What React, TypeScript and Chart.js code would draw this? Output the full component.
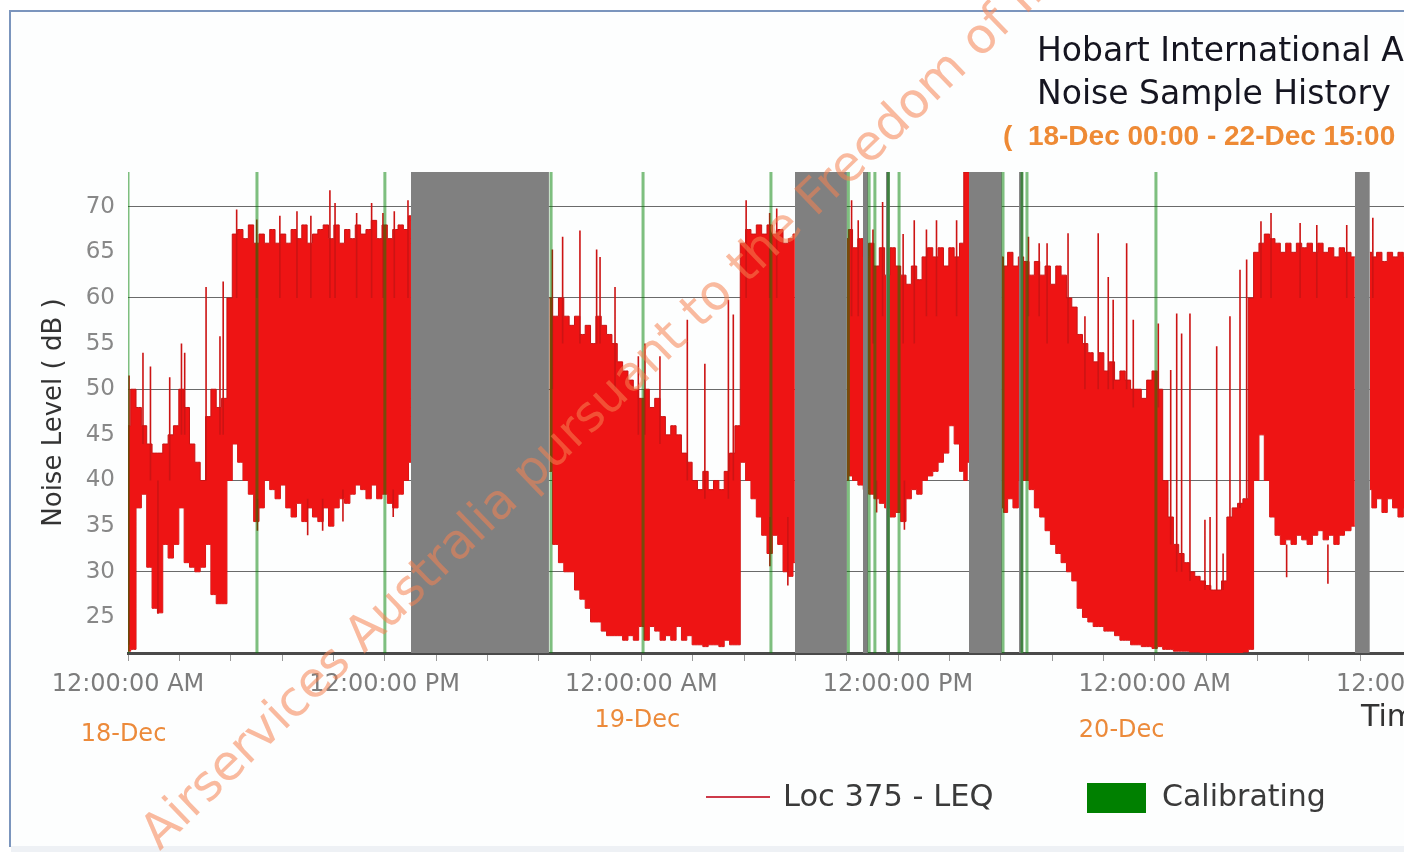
import React, { useEffect, useRef } from 'react';
import { Chart, registerables } from 'chart.js';

Chart.register(...registerables);

// ---------- data (hours since 18-Dec 00:00, dB) ----------
const Y_MIN = 21.1;
const Y_MAX = 73.8;
const X_MIN = 0;
const X_MAX = 72;

// LEQ body envelope samples; null marks a period with no data
const leqHours = [
  0, 0.25, 0.5, 0.75, 1, 1.25, 1.5, 1.75, 2, 2.25, 2.5, 2.75, 3, 3.25, 3.5, 3.75,
  4, 4.25, 4.5, 4.75, 5, 5.25, 5.5, 5.75, 6, 6.25, 6.5, 6.75, 7, 7.25, 7.5, 7.75,
  8, 8.25, 8.5, 8.75, 9, 9.25, 9.5, 9.75, 10, 10.25, 10.5, 10.75, 11, 11.25, 11.5, 11.75,
  12, 12.25, 12.5, 12.75, 13, 13.23,
  16.5,
  19.7, 20, 20.25, 20.5, 20.75, 21, 21.25, 21.5, 21.75, 22, 22.25, 22.5, 22.75, 23, 23.25, 23.5, 23.75,
  24, 24.25, 24.5, 24.75, 25, 25.25, 25.5, 25.75, 26, 26.25, 26.5, 26.75, 27, 27.25, 27.5, 27.75,
  28, 28.25, 28.5, 28.75, 29, 29.25, 29.5, 29.75, 30, 30.25, 30.5, 30.75, 31, 31.18,
  32.4,
  33.61, 33.75, 34, 34.25, 34.5, 34.75, 35, 35.25, 35.5, 35.75, 36, 36.25, 36.5, 36.75,
  37, 37.25, 37.5, 37.75, 38, 38.25, 38.5, 38.75, 39, 39.15, 39.32,
  40.1,
  40.86, 41, 41.25, 41.5, 41.75, 42, 42.25, 42.5, 42.75, 43, 43.25, 43.5, 43.75,
  44, 44.25, 44.5, 44.75, 45, 45.25, 45.5, 45.75, 46, 46.25, 46.5, 46.75,
  47, 47.25, 47.5, 47.75, 48, 48.25, 48.5, 48.75, 49, 49.25, 49.5, 49.75,
  50, 50.25, 50.5, 50.75, 51, 51.25, 51.5, 51.75, 52, 52.25, 52.5, 52.75,
  53, 53.25, 53.5, 53.75, 54, 54.25, 54.5, 54.75, 55, 55.25, 55.5, 55.75,
  56, 56.25, 56.5, 56.75, 57, 57.36,
  57.7,
  58.06, 58.25, 58.5, 58.75, 59, 59.25, 59.5, 59.75, 60,
];

const leqUpper = [
  46, 50, 48, 46, 44, 43, 43, 44, 45, 46, 50, 48, 44, 42, 40, 47,
  50, 48, 49, 60, 67, 67.5, 66.5, 68, 66, 67, 66, 67.5, 66, 67, 66, 67.5,
  66.5, 68, 66, 67, 67.5, 68, 66.5, 68, 66, 67.5, 66.5, 68, 67, 67.5, 68.5, 66.5,
  68, 66.5, 67.5, 68, 67.5, 69,
  null,
  60, 58, 60, 58, 57, 58, 56, 57, 55, 58, 57, 56, 55, 53, 52, 51, 50,
  49, 50, 48, 49, 47, 45, 46, 45, 43, 42, 40, 39, 41, 39, 40, 39,
  41, 43, 46, 66, 67.5, 67, 68, 67, 68, 67, 67.5, 66, 66.5, 67,
  null,
  66.5, 67.5, 65.5, 66.5, 64.5, 66, 63.5, 65.5, 62.5, 65.5, 63.5, 62.5, 61.5, 63.5,
  62, 64.5, 65.5, 64.5, 65.5, 63.5, 65.5, 64.5, 66, 73.8, 73.8,
  null,
  64.5, 63.5, 65, 63.5, 64.5, 64, 62.5, 64, 62.5, 63.5, 61.5, 63.5, 62.5,
  60, 59, 56, 55, 54, 53, 54, 52, 53, 51, 52, 51,
  50, 50, 49, 51, 52, 50, 40, 36, 33, 32, 31, 30,
  29.5, 29, 28.5, 28, 28, 29, 36, 37, 37.5, 38, 60, 65,
  66, 67, 66.5, 66, 65, 66, 65, 66, 65.5, 66, 65, 66,
  65, 65.5, 64.5, 65.5, 65, 64.5,
  null,
  65, 64.5, 65, 64, 65, 64.5, 65, 64.5, 65,
];

const leqLower = [
  21.3, 21.5, 37, 38.5, 30.5, 26, 25.5, 33, 31.5, 33, 37, 31, 30.5, 30, 30.5, 33,
  27.5, 26.5, 26.5, 40, 44, 42, 40, 38.5, 35.5, 37, 40, 39, 38, 39.5, 37, 36,
  37.5, 35.5, 37, 36, 35.5, 37, 35, 37, 38, 37.5, 38.5, 39.5, 39, 38, 39.5, 38,
  38.5, 37.5, 37, 38.5, 40, 42,
  null,
  41, 33, 31, 30, 30, 28, 27, 26, 24.5, 24.5, 23.5, 23, 23, 23, 22.5, 23, 22.5,
  24, 22.5, 24, 23.5, 22.5, 23, 22.5, 24, 22.5, 23, 22, 22, 21.8, 22, 22, 21.8,
  22.5, 22, 22, 42, 40, 38, 36, 34, 32, 34, 33, 30, 29.5, 31,
  null,
  40, 40.5, 40, 39.5, 39, 38.5, 38, 37.5, 37, 36, 36.5, 35.5, 38, 39,
  38.5, 40, 40.5, 41, 42, 43, 46, 44, 41, 40, 42,
  null,
  37, 36.5, 38, 37, 40, 40, 39, 37, 36, 34.5, 33, 32, 31,
  30, 29, 26, 25, 24.5, 24, 24, 23.5, 23.5, 23, 22.5, 22.5,
  22, 22, 21.8, 21.8, 21.6, 21.8, 21.5, 21.5, 21.3, 21.3, 21.3, 21.2,
  21.2, 21.1, 21.1, 21, 21, 21, 21, 21, 21, 21.2, 21.5, 40,
  45, 40, 36, 34, 33, 33.5, 33, 34, 33.5, 33, 34, 34.5,
  33.5, 34, 33, 34, 34.5, 35,
  null,
  39, 37, 38, 36.5, 38, 37, 36, 37, 38,
];

// individual short LEQ excursions (thin spikes up and dips down)
const spikeHours = [
  0.05, 0.7, 1.05, 1.4, 1.95, 2.5, 2.65, 3.65, 4.3, 4.45, 5.08, 6.02, 6.05, 7.1, 7.9, 8.4,
  8.55, 9.1, 9.44, 9.68, 10.05, 10.69, 11.39, 11.92, 12.4, 12.45, 13.09,
  19.84, 20.32, 21.13, 21.91, 22.07, 22.77, 23.86, 24.17, 24.87, 26.15, 26.97, 28.07, 28.3,
  28.9, 30.0, 30.01, 30.33, 30.85,
  33.83, 34.14, 34.83, 35.0, 35.28, 36.24, 36.3, 36.76, 37.33, 37.8, 38.74,
  42.1, 42.6, 42.97, 43.95, 44.74, 45.36, 45.83, 46.06, 46.69, 47.0, 48.17, 48.75, 49.03,
  49.26, 49.65, 50.35, 50.59, 50.9, 51.2, 51.52, 51.99, 52.3, 52.97, 53.44, 54.17, 54.8,
  55.58, 56.1, 56.98,
  58.2,
];
const spikeHigh = [
  51.5, 54, 52.5, 40, 51.3, 55, 54, 61.2, 55.8, 61.8, 69.7, 68.6, 38, 69, 69.5, 38,
  69, 38, 71.8, 70.4, 39, 69.3, 70.4, 69.3, 39, 69.5, 70.7,
  65.3, 66.7, 67.4, 65.3, 64.5, 61.2, 53.6, 55, 53.6, 57.6, 52.8, 59.8, 58.2,
  70.7, 69.3, 36, 69.8, 36,
  70.7, 68.5, 67.5, 40, 70.5, 67, 40, 68.5, 67.5, 68.5, 68.5,
  66.7, 66, 66, 67.1, 58, 67.1, 62.3, 59.8, 66, 57.6, 57.2, 52.1, 58.3,
  56.1, 58.3, 35.7, 36, 54.7, 32, 58, 63.1, 64.2, 68.4, 69.3, 33, 68.2,
  68, 33, 68,
  68.8,
];
const spikeLow = [
  22, 44, 40, 25.4, 40, 45, 45, 40, 45, 45, 60, 60, 34.5, 60, 60, 34,
  60, 34.5, 60, 60, 35.5, 60, 60, 60, 36, 60, 60,
  50, 55, 55, 55, 55, 50, 45, 45, 44, 40, 38, 38, 40,
  60, 60, 30.6, 60, 28.5,
  58, 58, 55, 36.5, 58, 55, 34.6, 55, 58, 58, 58,
  58, 58, 55, 55, 50, 50, 50, 50, 50, 48, 48, 33, 30,
  30, 29, 28, 28, 28, 28, 36, 37, 38, 60, 60, 29.4, 60,
  60, 28.7, 60,
  60,
];

// periods without data (grey bands), hours
const gapStart = [13.23, 31.18, 34.36, 35.44, 39.32, 41.66, 57.36];
const gapEnd = [19.68, 33.61, 34.6, 35.62, 40.86, 41.84, 58.06];

// calibration events (green lines), hours
const calHours = [0, 6.03, 12.01, 19.78, 24.08, 30.06, 33.68, 34.65, 34.92, 35.55, 36.05, 40.91, 41.8, 42.03, 48.06];

// axis ticks
const yTickValues = [25, 30, 35, 40, 45, 50, 55, 60, 65, 70];
const xTickHours = Array.from({ length: 30 }, (_, i) => Math.round(i * 240) / 100);
const xLabelHours = [0, 12, 24, 36, 48, 60];
const xLabelTexts = ['12:00:00 AM', '12:00:00 PM', '12:00:00 AM', '12:00:00 PM', '12:00:00 AM', '12:00:00 PM'];
const dateLabels = ['18-Dec', '19-Dec', '20-Dec'];
const dateHours = [0, 24, 48];

// ---------- helpers ----------
const FONT = 'DejaVu Sans';

function buildLeq(values: (number | null)[]) {
  return leqHours.map((h, i) => ({ x: h, y: values[i] }));
}

function buildVerticals(hours: number[], lo: number[] | number, hi: number[] | number) {
  const pts: { x: number; y: number | null }[] = [];
  hours.forEach((h, i) => {
    pts.push({ x: h, y: Array.isArray(lo) ? lo[i] : lo });
    pts.push({ x: h, y: Array.isArray(hi) ? hi[i] : hi });
    pts.push({ x: h, y: null });
  });
  return pts;
}

function buildGaps() {
  const pts: { x: number; y: number | null }[] = [];
  gapStart.forEach((s, i) => {
    pts.push({ x: s, y: Y_MAX });
    pts.push({ x: gapEnd[i], y: Y_MAX });
    pts.push({ x: gapEnd[i], y: null });
  });
  return pts;
}

const DATE_DX = [-4.5, -4, -33];
const DATE_Y = [735, 721, 731];

const dateLabelPlugin = {
  id: 'dateLabels',
  afterDraw(chart: any) {
    const { ctx } = chart;
    const x = chart.scales.x;
    ctx.save();
    ctx.font = `24px "${FONT}"`;
    ctx.fillStyle = '#ec8a3a';
    ctx.textAlign = 'center';
    ctx.textBaseline = 'middle';
    dateLabels.forEach((t, i) => {
      ctx.fillText(t, x.getPixelForValue(dateHours[i]) + DATE_DX[i], DATE_Y[i]);
    });
    ctx.restore();
  },
};

export default function App() {
  const canvasRef = useRef<HTMLCanvasElement | null>(null);

  useEffect(() => {
    const canvas = canvasRef.current;
    if (!canvas) return;
    Chart.defaults.font.family = FONT;
    const chart = new Chart(canvas, {
      type: 'line',
      data: {
        datasets: [
          {
            label: 'Calibrating',
            data: buildVerticals(calHours, Y_MIN, Y_MAX),
            borderColor: 'rgba(0,128,0,0.5)',
            borderWidth: 3,
            pointRadius: 0,
            fill: false,
            order: 0,
          },
          {
            label: 'No data',
            data: buildGaps(),
            borderColor: 'rgba(0,0,0,0)',
            borderWidth: 0,
            backgroundColor: '#808080',
            pointRadius: 0,
            fill: 'start',
            order: 1,
          },
          {
            label: 'Loc 375 - LEQ spikes',
            data: buildVerticals(spikeHours, spikeLow, spikeHigh),
            borderColor: '#cc1414',
            borderWidth: 1.6,
            pointRadius: 0,
            fill: false,
            order: 2,
          },
          {
            label: 'Loc 375 - LEQ',
            data: buildLeq(leqUpper),
            borderColor: '#c81414',
            borderWidth: 1,
            backgroundColor: '#ee1414',
            pointRadius: 0,
            stepped: 'middle',
            fill: '+1',
            order: 3,
          },
          {
            label: 'Loc 375 - LEQ (low)',
            data: buildLeq(leqLower),
            borderColor: '#c81414',
            borderWidth: 1,
            pointRadius: 0,
            stepped: 'middle',
            fill: false,
            order: 4,
          },
        ],
      } as any,
      options: {
        animation: false,
        responsive: false,
        devicePixelRatio: 1,
        layout: { padding: { left: 0, top: 172, right: 0, bottom: 0 } },
        plugins: {
          legend: { display: false },
          tooltip: { enabled: false },
          title: { display: false },
        },
        scales: {
          x: {
            type: 'linear',
            min: X_MIN,
            max: X_MAX,
            afterBuildTicks: (s: any) => {
              s.ticks = xTickHours.map((v) => ({ value: v }));
            },
            afterFit: (s: any) => {
              s.height = 199;
            },
            grid: { drawOnChartArea: false, drawTicks: true, tickLength: 8, tickColor: '#9a9a9a' },
            border: { display: true, color: '#4a4a4a', width: 3 },
            ticks: {
              autoSkip: false,
              maxRotation: 0,
              padding: 9,
              color: '#7c7c7c',
              font: { size: 24, family: FONT },
              callback: (v: any) => {
                const i = xLabelHours.indexOf(Math.round(Number(v) * 100) / 100);
                return i >= 0 ? xLabelTexts[i] : '';
              },
            },
          },
          y: {
            min: Y_MIN,
            max: Y_MAX,
            afterBuildTicks: (s: any) => {
              s.ticks = yTickValues.map((v) => ({ value: v }));
            },
            afterFit: (s: any) => {
              s.width = 128;
            },
            grid: {
              drawTicks: false,
              lineWidth: 1,
              color: (c: any) => (c.tick && c.tick.value % 10 === 0 ? '#6a6a6a' : 'rgba(0,0,0,0)'),
            },
            border: { display: false },
            ticks: { padding: 13, color: '#888888', font: { size: 23, family: FONT } },
            title: {
              display: true,
              text: 'Noise Level ( dB )',
              color: '#333333',
              font: { size: 26, family: FONT },
              padding: { top: 39, bottom: 0 },
            },
          },
        },
      } as any,
      plugins: [dateLabelPlugin],
    });
    return () => chart.destroy();
  }, []);

  const txt = (extra: React.CSSProperties): React.CSSProperties => ({
    position: 'absolute',
    whiteSpace: 'pre',
    fontFamily: FONT,
    ...extra,
  });

  return (
    <div
      style={{
        position: 'fixed',
        left: 0,
        top: 0,
        width: 1404,
        height: 852,
        overflow: 'hidden',
        background: '#ffffff',
      }}
    >
      <div
        style={{
          position: 'absolute',
          left: 9,
          top: 10,
          width: 1600,
          height: 835,
          borderLeft: '2px solid #7b95bd',
          borderTop: '2px solid #7b95bd',
          background: '#fdfefe',
        }}
      />
      <div style={{ position: 'absolute', left: 11, top: 846, width: 1500, height: 6, background: '#eef1f5' }} />
      <canvas ref={canvasRef} width={1668} height={852} style={{ position: 'absolute', left: 0, top: 0 }} />

      {/* titles */}
      <div style={txt({ left: 1037, top: 33, fontSize: 33, lineHeight: '33px', color: '#151520' })}>
        Hobart International Airport
      </div>
      <div style={txt({ left: 1037, top: 76, fontSize: 33, lineHeight: '33px', color: '#151520' })}>
        Noise Sample History (Loc 375)
      </div>
      <div
        style={txt({
          left: 1003,
          top: 122,
          fontSize: 28,
          lineHeight: '28px',
          fontWeight: 'bold',
          fontFamily: 'Liberation Sans',
          color: '#ee8a35',
        })}
      >
        {'(  18-Dec 00:00 - 22-Dec 15:00  )'}
      </div>

      {/* x axis title (mostly outside the view) */}
      <div style={txt({ left: 1361, top: 701, fontSize: 30, lineHeight: '30px', color: '#333333' })}>Time</div>

      {/* legend */}
      <div style={{ position: 'absolute', left: 706, top: 796, width: 64, height: 2, background: '#cd3a4a' }} />
      <div style={txt({ left: 783, top: 781, fontSize: 30.5, lineHeight: '30px', color: '#3a3a3a' })}>Loc 375 - LEQ</div>
      <div style={{ position: 'absolute', left: 1087, top: 783, width: 59, height: 30, background: '#008000' }} />
      <div style={txt({ left: 1162, top: 781, fontSize: 30, lineHeight: '30px', color: '#3a3a3a' })}>Calibrating</div>

      {/* watermark */}
      <div
        style={txt({
          left: 160,
          top: 851 - 41.5,
          fontSize: 49,
          lineHeight: '49px',
          color: 'rgba(245,130,80,0.55)',
          transformOrigin: '0px 41.5px',
          transform: 'rotate(-44deg)',
          pointerEvents: 'none',
        })}
      >
        Airservices Australia pursuant to the Freedom of Information Act
      </div>
    </div>
  );
}
